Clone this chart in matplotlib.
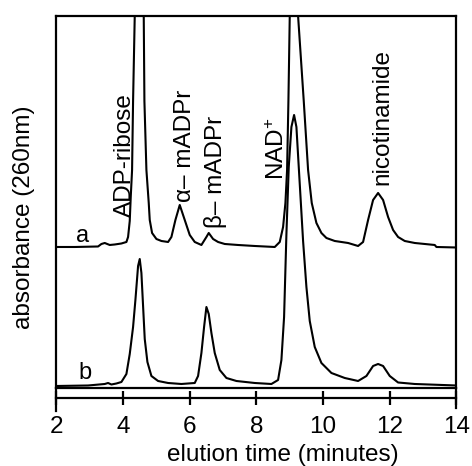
import matplotlib
matplotlib.use('Agg')
import matplotlib.pyplot as plt

# ---- data (absorbance in arbitrary units above each trace's baseline) ----
TIME_A = [2.0, 2.55, 3.25, 3.35, 3.45, 3.6, 3.75, 3.95, 4.10, 4.15, 4.20, 4.23, 4.27, 4.30, 4.35,
          4.48, 4.62, 4.64, 4.70, 4.77, 4.80, 4.87, 5.0, 5.15, 5.35, 5.45, 5.57, 5.70, 5.85, 6.0,
          6.15, 6.35, 6.50, 6.57, 6.70, 6.85, 7.05, 7.45, 7.95, 8.55, 8.70, 8.80, 8.87, 8.92, 8.96,
          9.0, 9.12, 9.25, 9.42, 9.55, 9.66, 9.80, 9.95, 10.1, 10.35, 10.75, 10.95, 11.05, 11.2,
          11.35, 11.5, 11.65, 11.8, 11.95, 12.1, 12.25, 12.45, 12.75, 13.35, 13.4, 14.0]
ABS_A = [0, 0, 0.5, 3, 4, 2, 2.5, 3.5, 5, 10, 26, 50, 77, 146, 231,
         330, 231, 146, 77, 44, 27, 14, 8, 6, 5, 10, 27, 42, 27, 12,
         5, 2, 10, 14, 8, 5, 3, 2, 1, 0, 5, 20, 44, 77, 146,
         231, 330, 231, 146, 77, 44, 24, 14, 9, 6, 4, 2, 1, 5,
         27, 47, 54, 47, 30, 17, 10, 6, 4, 2, 0, -0.5]

TIME_B = [2.0, 2.95, 3.45, 3.55, 3.65, 3.8, 3.95, 4.1, 4.2, 4.3, 4.37, 4.45, 4.5, 4.55, 4.6,
          4.65, 4.73, 4.85, 5.05, 5.35, 5.75, 6.15, 6.25, 6.35, 6.43, 6.5, 6.57, 6.65, 6.75, 6.9,
          7.1, 7.4, 7.95, 8.45, 8.65, 8.75, 8.83, 8.9, 8.97, 9.05, 9.13, 9.2, 9.3, 9.4, 9.5,
          9.6, 9.75, 9.95, 10.25, 10.65, 11.05, 11.3, 11.5, 11.65, 11.8, 12.0, 12.25, 12.75, 14.0]
ABS_B = [0, 0.5, 2, 3, 1.5, 2.5, 4, 12, 32, 59, 86, 120, 127, 113, 80,
         47, 24, 10, 5, 3, 2, 3, 10, 33, 59, 79, 72, 53, 33, 16,
         8, 5, 3, 2, 6, 26, 69, 152, 219, 259, 271, 259, 202, 145, 99,
         65, 39, 23, 13, 8, 5, 10, 20, 22, 20, 10, 3.5, 2, 0.5]

OFFSET_A = 141
OFFSET_B = 2

TRACE_NAMES = ['a', 'b']
PEAK_NAMES = ['ADP-ribose', 'α– mADPr', 'β– mADPr', r'NAD$^{+}$', 'nicotinamide']
PEAK_LABEL_X = [4.05, 5.85, 6.78, 8.64, 11.78]
PEAK_LABEL_Y = [171, 186, 160, 208, 203]
XTICKS = [2, 4, 6, 8, 10, 12, 14]
XLABEL = 'elution time (minutes)'
YLABEL = 'absorbance (260nm)'

plt.rcParams['font.family'] = ['Liberation Sans', 'DejaVu Sans']
plt.rcParams['mathtext.default'] = 'regular'

fig = plt.figure(figsize=(4.72, 4.66), dpi=100)
ax = fig.add_axes([0.1195, 0.1674, 0.8475, 0.7983])

ax.plot(TIME_A, [v + OFFSET_A for v in ABS_A], color='black', lw=1.5)
ax.plot(TIME_B, [v + OFFSET_B for v in ABS_B], color='black', lw=1.5)

ax.set_xlim(2, 14)
ax.set_ylim(0, 372)
ax.set_yticks([])
ax.set_xticks(XTICKS)
ax.set_xticklabels([str(t) for t in XTICKS])

for s in ax.spines.values():
    s.set_linewidth(1.6)
ax.spines['bottom'].set_position(('outward', 7.2))
ax.tick_params(axis='x', direction='inout', length=9.4, width=1.6, labelsize=17.5, pad=8)

# closed box bottom and frame extensions
ax.plot([0, 1], [0, 0], transform=ax.transAxes, color='black', lw=1.6, clip_on=False)
ax.plot([0, 0], [0, -0.062], transform=ax.transAxes, color='black', lw=1.6, clip_on=False)
ax.plot([1, 1], [0, -0.055], transform=ax.transAxes, color='black', lw=1.6, clip_on=False)

# trace letters
ax.text(2.79, 152, TRACE_NAMES[0], fontsize=17, ha='center', va='center')
ax.text(2.85, 15, TRACE_NAMES[1], fontsize=17, ha='center', va='center')

for name, x, y in zip(PEAK_NAMES, PEAK_LABEL_X, PEAK_LABEL_Y):
    ax.text(x, y, name, rotation=90, fontsize=17.5, ha='center', va='bottom')

fig.text(283 / 472, 1 - 455 / 466, XLABEL, fontsize=17.5, ha='center', va='center')
fig.text(24 / 472, 1 - 217 / 466, YLABEL, fontsize=17.5, rotation=90, ha='center', va='center')

fig.savefig('out.png', dpi=100)
